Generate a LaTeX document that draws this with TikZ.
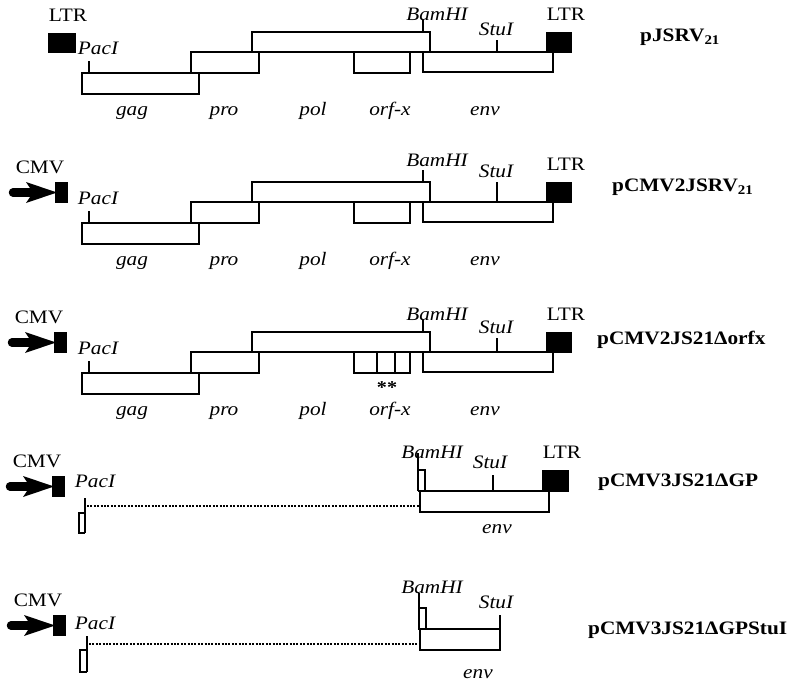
\documentclass[tikz,border=0pt]{standalone}
\usepackage{fontspec}
\setmainfont{Liberation Serif}[FakeStretch=1.12]
\begin{document}
\tikzset{
  gl/.style={line width=2.9pt, line join=miter},
  tk/.style={line width=2.2pt},
  dotl/.style={line width=1.9pt, dash pattern=on 2pt off 1.4pt},
  lbl/.style={font=\fontsize{19}{21}\selectfont, inner sep=0pt, anchor=base},
  ilbl/.style={font=\fontsize{19}{21}\selectfont\itshape, inner sep=0pt, anchor=base},
  pname/.style={font=\fontsize{19}{21}\selectfont\bfseries, inner sep=0pt, anchor=west},
}
\newcommand{\cmvprom}[3]{% #1 name, #2 square left x, #3 square top y
  \fill (#2,#3) rectangle ++(13,21);
  \draw[line width=8.5pt, line cap=round] (#2-42,#3+10.5) -- (#2-22,#3+10.5);
  \fill (#2-29,#3) -- (#2+2,#3+10.5) -- (#2-29,#3+21) -- (#2-22,#3+10.5) -- cycle;
  \node[lbl] (#1) at (#2-15,#3-9) {CMV};
}
\newcommand{\fullgen}[4]{% #1 suffix, #2 StuI tick top, #3 StuI label base, #4 BamHI base
  \draw[gl] (82,73) rectangle (199,94);
  \draw[gl] (191,52) rectangle (259,73);
  \draw[gl] (252,32) rectangle (430,52);
  \draw[gl] (354,52) rectangle (410,73);
  \draw[gl] (423,52) -- (423,72) -- (553,72) -- (553,52);
  \draw[gl] (430,52) -- (548,52);
  \fill (546,32) rectangle (572,53);
  \draw[gl] (89,61) -- (89,73);
  \draw[tk] (423,20) -- (423,32);
  \draw[tk] (497,#2) -- (497,52);
  \node[ilbl] (pac#1) at (98,54) {PacI};
  \node[ilbl] (bam#1) at (437,#4) {BamHI};
  \node[ilbl] (stu#1) at (496,#3) {StuI};
  \node[lbl] (ltrR#1) at (566,20) {LTR};
  \node[ilbl] (gag#1) at (132,115) {gag};
  \node[ilbl] (pro#1) at (224,115) {pro};
  \node[ilbl] (pol#1) at (313,115) {pol};
  \node[ilbl] (orf#1) at (390,115) {orf-x};
  \node[ilbl] (env#1) at (485,115) {env};
}
\begin{tikzpicture}[x=1pt, y=-1pt]
\useasboundingbox (0,0) rectangle (795,691);
% Row 1
\fullgen{1}{40}{35}{20}
\fill (48,33) rectangle (76,53);
\node[lbl] (ltrL1) at (68,21) {LTR};
\node[pname] (n1) at (640,37) {pJSRV\textsubscript{21}};
% Row 2
\begin{scope}[yshift=-150pt]
\fullgen{2}{32}{27}{16}
\node[pname] (n2) at (612,37) {pCMV2JSRV\textsubscript{21}};
\end{scope}
\cmvprom{cmv2}{55}{182}
% Row 3
\begin{scope}[yshift=-300pt]
\fullgen{3}{38}{33}{20}
\draw[gl] (377,52) -- (377,73);
\draw[gl] (395,52) -- (395,73);
\node[font=\fontsize{18}{18}\selectfont\bfseries, inner sep=0pt] (st3) at (387,88) {**};
\node[pname] (n3) at (597,40) {pCMV2JS21Δorfx};
\end{scope}
\cmvprom{cmv3}{54}{332}
% Row 4
\cmvprom{cmv4}{52}{476}
\node[ilbl] (pac4) at (95,487) {PacI};
\draw[tk] (85,498) -- (85,533);
\draw[tk] (85,513) -- (79,513) -- (79,533) -- (85,533);
\draw[dotl] (87,506) -- (419,506);
\draw[tk] (418,453) -- (418,491);
\draw[tk] (418,470) -- (425,470) -- (425,491);
\draw[gl] (418,491) -- (543,491);
\draw[gl] (420,491) -- (420,512) -- (549,512) -- (549,491);
\draw[tk] (493,475) -- (493,491);
\fill (542,470) rectangle (569,492);
\node[ilbl] (bam4) at (432,458) {BamHI};
\node[ilbl] (stu4) at (490,468) {StuI};
\node[lbl] (ltr4) at (562,458) {LTR};
\node[ilbl] (env4) at (497,533) {env};
\node[pname] (n4) at (598,482) {pCMV3JS21ΔGP};
% Row 5
\cmvprom{cmv5}{53}{615}
\node[ilbl] (pac5) at (95,629) {PacI};
\draw[tk] (87,636) -- (87,672);
\draw[tk] (87,650) -- (80,650) -- (80,672) -- (87,672);
\draw[dotl] (89,644) -- (419,644);
\draw[tk] (419,593) -- (419,630);
\draw[tk] (419,608) -- (426,608) -- (426,630);
\draw[gl] (419,629) -- (500,629);
\draw[gl] (420,629) -- (420,650) -- (500,650) -- (500,615);
\node[ilbl] (bam5) at (432,593) {BamHI};
\node[ilbl] (stu5) at (496,608) {StuI};
\node[ilbl] (env5) at (478,678) {env};
\node[pname] (n5) at (588,630) {pCMV3JS21ΔGPStuI};
\end{tikzpicture}
\end{document}
